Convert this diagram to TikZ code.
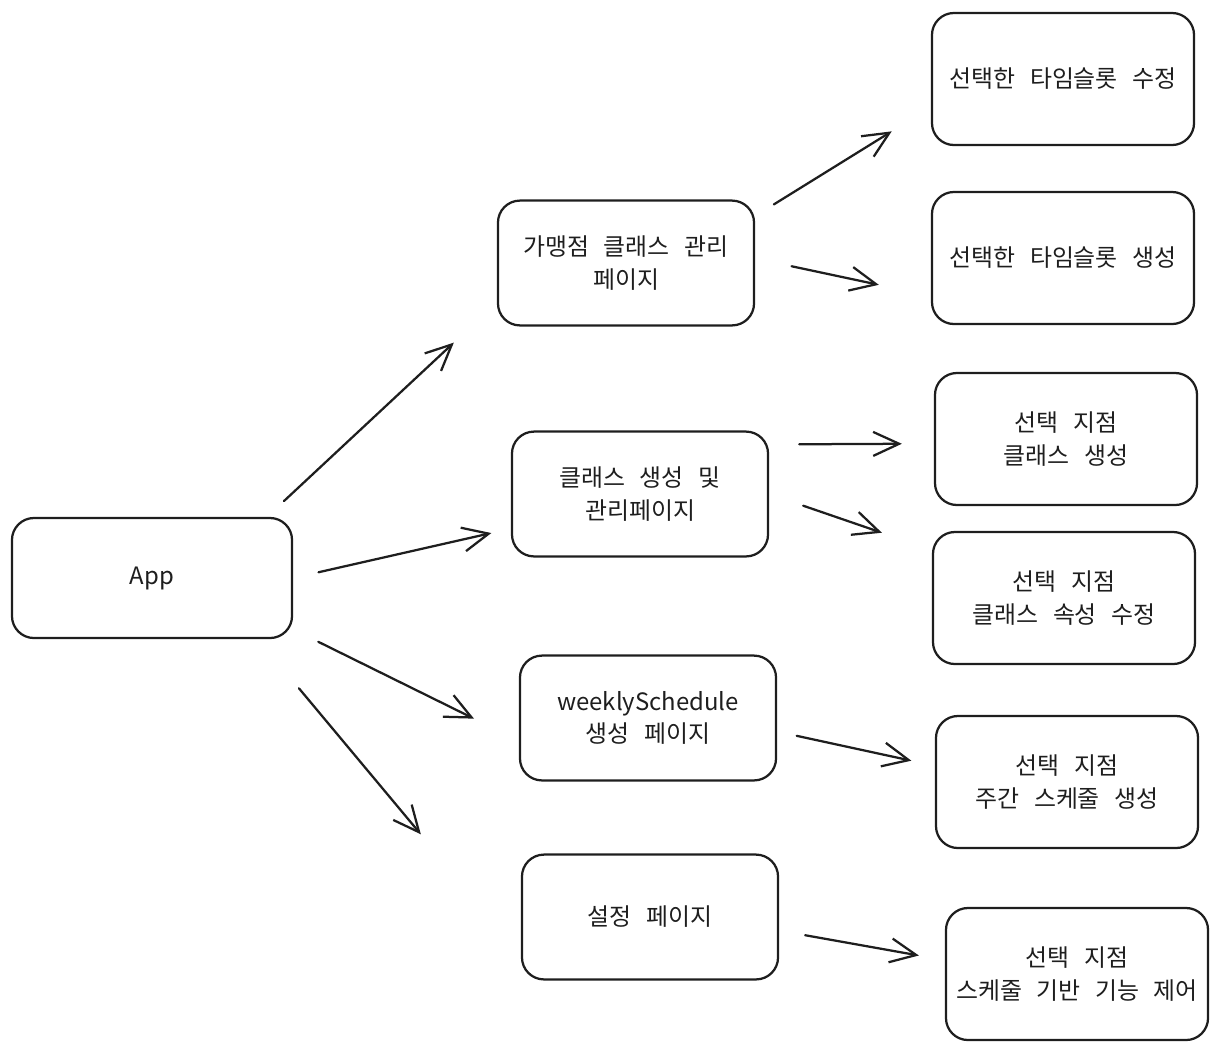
\documentclass[tikz,border=0pt]{standalone}
\usepackage{fontspec}
\setmainfont{Noto Sans CJK KR}[WordSpace=2.7]
\usepackage{tikz}
\usetikzlibrary{arrows.meta}
\definecolor{ink}{HTML}{1E1E1E}

\begin{document}
\begin{tikzpicture}[x=0.025cm, y=-0.025cm,
		box/.style={draw=ink, line width=1.6pt, rounded corners=0.55cm, align=center, text=ink, font=\fontsize{17}{23}\selectfont},
		midbox/.style={box, minimum width=6.4cm, minimum height=3.12cm},
		endbox/.style={box, minimum width=6.55cm, minimum height=3.3cm},
		arr/.style={draw=ink, line width=1.6pt, line cap=round, -{Straight Barb[length=0.65cm, width=0.6cm, line width=1.6pt]}}]
			\useasboundingbox (0,0) rectangle (1220,1054);

			\node[box, minimum width=7cm, minimum height=3cm] (app) at (152,578){App};

			\node[midbox] (mgmt) at (626,263){가맹점 클래스 관리\\페이지};
			\node[midbox] (cls) at (640,494){클래스 생성 및\\관리페이지};
			\node[midbox] (weekly) at (648,718){weeklySchedule\\생성 페이지};
			\node[midbox] (setp) at (650,917){설정 페이지};

			\node[endbox] (slotedit) at (1063,79){선택한 타임슬롯 수정};
			\node[endbox] (slotnew) at (1063,258){선택한 타임슬롯 생성};
			\node[endbox] (brcls) at (1066,439){선택 지점\\클래스 생성};
			\node[endbox] (brattr) at (1064,598){선택 지점\\클래스 속성 수정};
			\node[endbox] (brweek) at (1067,782){선택 지점\\주간 스케줄 생성};
			\node[endbox] (brctrl) at (1077,974){선택 지점\\스케줄 기반 기능 제어};

			\draw[arr, shorten <=0.58cm, shorten >=1.47cm] (app.28) -- (mgmt.197);
			\draw[arr, shorten <=0.65cm, shorten >=0.5cm] (app.east) -- (cls.195);
			\draw[arr, shorten <=0.7cm, shorten >=1.25cm] (app.-20) -- (weekly.190);
			\draw[arr, shorten <=1.6cm, shorten >=3.9cm] (app.-30) -- (setp.196);

			\draw[arr, shorten <=0.55cm, shorten >=1.15cm] (mgmt.20) -- (slotedit.192);
			\draw[arr, shorten <=0.93cm, shorten >=1.33cm] (mgmt.2) -- (slotnew.196);
			\draw[arr, shorten <=0.75cm, shorten >=0.8cm] (cls.21) -- (brcls.182);
			\draw[arr, shorten <=0.9cm, shorten >=1.32cm] (cls.east) -- (brattr.160);
			\draw[arr, shorten <=0.5cm, shorten >=0.6cm] (weekly.-6) -- (brweek.173);
			\draw[arr, shorten <=0.66cm, shorten >=0.66cm] (setp.-6) -- (brctrl.174);
		\end{tikzpicture}
\end{document}
